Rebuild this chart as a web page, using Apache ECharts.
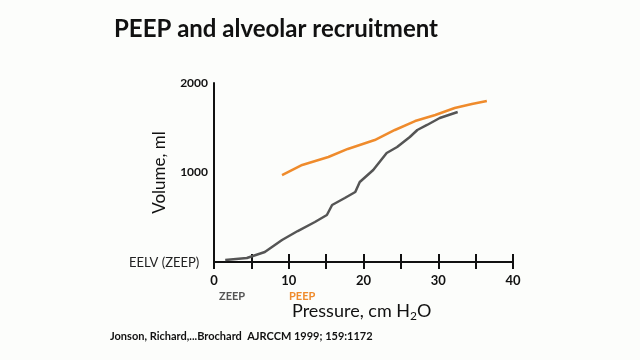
<!DOCTYPE html>
<html><head><meta charset="utf-8">
<script src="https://cdn.jsdelivr.net/npm/echarts@6/dist/echarts.min.js"></script>
<style>html,body{margin:0;padding:0;background:#fcfdfb}#c{width:640px;height:360px}</style>
</head><body><div id="c"></div>
<script>
const xTicks = [0, 10, 20, 30, 40];
const yTicks = [0, 1000, 2000];
const zeepPressure = [1.5, 4.4, 6.8, 9.1, 11.2, 13.5, 15.1, 15.8, 17.5, 18.9, 19.5, 21.3, 23.1, 24.5, 26.2, 27.2, 28.5, 30.2, 32.6];
const zeepVolume   = [22, 45, 112, 246, 346, 447, 525, 637, 715, 782, 894, 1028, 1218, 1285, 1397, 1475, 1531, 1609, 1676];
const peepPressure = [9.1, 11.8, 15.3, 17.9, 21.5, 24.2, 26.9, 29.6, 32.2, 34.5, 36.5];
const peepVolume   = [972, 1084, 1173, 1263, 1363, 1475, 1575, 1642, 1721, 1765, 1799];

const chart = echarts.init(document.getElementById('c'), null, {renderer: 'canvas'});
const font = 'Lato, "Open Sans", sans-serif';
const pair = (xs, ys) => xs.map((x, i) => [x, ys[i]]);
chart.setOption({
  backgroundColor: '#fcfdfb',
  animation: false,
  grid: {left: 214, right: 127, top: 83, bottom: 98},
  title: {text: 'PEEP and alveolar recruitment', left: 109, top: 12,
    textStyle: {fontFamily: font, fontWeight: 'bold', fontSize: 24, color: '#111'}},
  xAxis: [{
    type: 'value', min: xTicks[0], max: xTicks[xTicks.length - 1], interval: 5,
    axisLine: {lineStyle: {color: '#111', width: 2}},
    axisTick: {length: 7, lineStyle: {color: '#111', width: 2}},
    axisLabel: {margin: 12, fontFamily: font, fontWeight: 'bold', fontSize: 13, color: '#111',
      formatter: v => xTicks.includes(v) ? String(v) : ''},
    splitLine: {show: false}
  }, {
    type: 'value', min: xTicks[0], max: xTicks[xTicks.length - 1], interval: 5, position: 'bottom',
    axisLine: {show: false},
    axisTick: {inside: true, length: 8, lineStyle: {color: '#111', width: 2}},
    axisLabel: {show: false}, splitLine: {show: false}
  }],
  yAxis: {
    type: 'value', min: yTicks[0], max: yTicks[yTicks.length - 1], interval: 1000,
    axisLine: {show: true, lineStyle: {color: '#111', width: 2}},
    axisTick: {show: false},
    axisLabel: {margin: 6, fontFamily: font, fontWeight: 'bold', fontSize: 12, color: '#111',
      formatter: v => v === 0 ? '' : String(v)},
    splitLine: {show: false},
    name: 'Volume, ml', nameLocation: 'middle', nameGap: 46, nameRotate: 90,
    nameTextStyle: {fontFamily: font, fontSize: 17, color: '#111'}
  },
  graphic: [
    {type: 'text', left: 129, top: 256, style: {text: 'EELV (ZEEP)', fontFamily: font, fontSize: 13, fill: '#222'}},
    {type: 'text', left: 219, top: 291, style: {text: 'ZEEP', fontFamily: font, fontWeight: 'bold', fontSize: 11, fill: '#555'}},
    {type: 'text', left: 289, top: 291, style: {text: 'PEEP', fontFamily: font, fontWeight: 'bold', fontSize: 11, fill: '#ef8b2c'}},
    {type: 'text', left: 292, top: 302, style: {
      rich: {a: {fontFamily: font, fontSize: 18, fill: '#111'}, s: {fontFamily: font, fontSize: 12, fill: '#111', padding: [10, 0, 0, 0]}},
      text: '{a|Pressure, cm H}{s|2}{a|O}'}},
    {type: 'text', left: 110, top: 331, style: {text: 'Jonson, Richard,...Brochard  AJRCCM 1999; 159:1172',
      fontFamily: font, fontWeight: 'bold', fontSize: 11, fill: '#111'}}
  ],
  series: [
    {type: 'line', name: 'ZEEP', data: pair(zeepPressure, zeepVolume), showSymbol: false,
      lineStyle: {color: '#555', width: 2.5}},
    {type: 'line', name: 'PEEP', data: pair(peepPressure, peepVolume), showSymbol: false,
      lineStyle: {color: '#ef8b2c', width: 2.5}}
  ]
});
</script></body></html>
